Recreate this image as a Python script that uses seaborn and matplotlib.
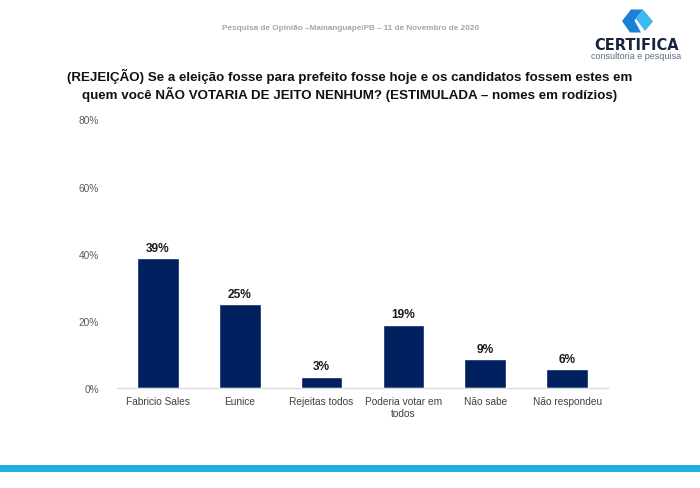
import matplotlib
matplotlib.use("Agg")
import matplotlib.pyplot as plt
from matplotlib.patches import Polygon, Rectangle
import seaborn as sns
import pandas as pd

# --- Data ---
categorias = ["Fabricio Sales", "Eunice", "Rejeitas todos",
              "Poderia votar em\ntodos", "Não sabe", "Não respondeu"]
valores = [38.8, 24.9, 3.4, 18.9, 8.6, 5.6]
y_ticks = [0, 20, 40, 60, 80]

titulo = ("(REJEIÇÃO) Se a eleição fosse para prefeito fosse hoje e os candidatos fossem estes em\n"
          "quem você NÃO VOTARIA DE JEITO NENHUM? (ESTIMULADA – nomes em rodízios)")
cabecalho = "Pesquisa de Opinião –Mamanguape/PB – 11 de Novembro de 2020"

# --- Style ---
sns.set_style("white")
plt.rcParams['font.family'] = ['Liberation Sans', 'DejaVu Sans']

W, H = 700, 489
fig = plt.figure(figsize=(W / 100, H / 100), dpi=100)
ax = fig.add_axes([117 / W, 1 - 389 / H, (608 - 117) / W, (389 - 120.5) / H])

df = pd.DataFrame({"categoria": categorias, "valor": valores})
sns.barplot(data=df, x="categoria", y="valor", color="#002060",
            width=0.51, saturation=1, ax=ax)

ax.set_xlim(-0.5, len(categorias) - 0.5)
ax.set_ylim(0, 80)
ax.set_yticks(y_ticks)
ax.set_yticklabels([f"{t}%" for t in y_ticks], color="#595959", fontsize=7.3)
ax.tick_params(axis="y", length=0, pad=13)
ax.tick_params(axis="x", length=0, pad=6, labelsize=7.3, labelcolor="#404040")
ax.set_xlabel("")
ax.set_ylabel("")
for s in ["top", "right", "left"]:
    ax.spines[s].set_visible(False)
ax.spines["bottom"].set_color("#D9D9D9")
ax.spines["bottom"].set_linewidth(0.9)

ax.bar_label(ax.containers[0], labels=[f"{v:.0f}%" for v in valores],
             padding=3, fontsize=8.6, fontweight="bold", color="#1a1a1a")

# --- Header / title ---
fig.text(351 / W, 1 - 28 / H, cabecalho, ha="center", va="center",
         fontsize=5.9, fontweight="bold", color="#A6A6A6")
fig.text(350 / W, 1 - 85.5 / H, titulo, ha="center", va="center",
         fontsize=9.6, fontweight="bold", color="#111111", linespacing=1.3)

# --- Logo ---
def to_fig(pts):
    return [(x / W, 1 - y / H) for x, y in pts]

fig.patches.append(Polygon(to_fig([(643, 10.5), (653, 22.5), (645, 32), (636, 20)]),
                           closed=True, facecolor="#3DB9F2", edgecolor="none",
                           transform=fig.transFigure))
fig.patches.append(Polygon(to_fig([(631, 10.5), (643, 10.5), (634.5, 21.5), (641, 33.5),
                                   (630, 33.5), (622, 22)]),
                           closed=True, facecolor="#1A80D8", edgecolor="none",
                           transform=fig.transFigure))
fig.text(636.5 / W, 1 - 46 / H, "CERTIFICA", ha="center", va="center",
         fontsize=10.5, fontweight="bold", family="DejaVu Sans", color="#17233F")
fig.text(636.5 / W, 1 - 56.5 / H, "consultoria e pesquisa", ha="center", va="center",
         fontsize=6.5, color="#5A6E8A")

# --- Bottom strip ---
fig.patches.append(Rectangle((0, 1 - 473 / H), 1, 7 / H, facecolor="#22AEE3",
                             edgecolor="none", transform=fig.transFigure))

fig.savefig("out.png", dpi=100, facecolor="white")
